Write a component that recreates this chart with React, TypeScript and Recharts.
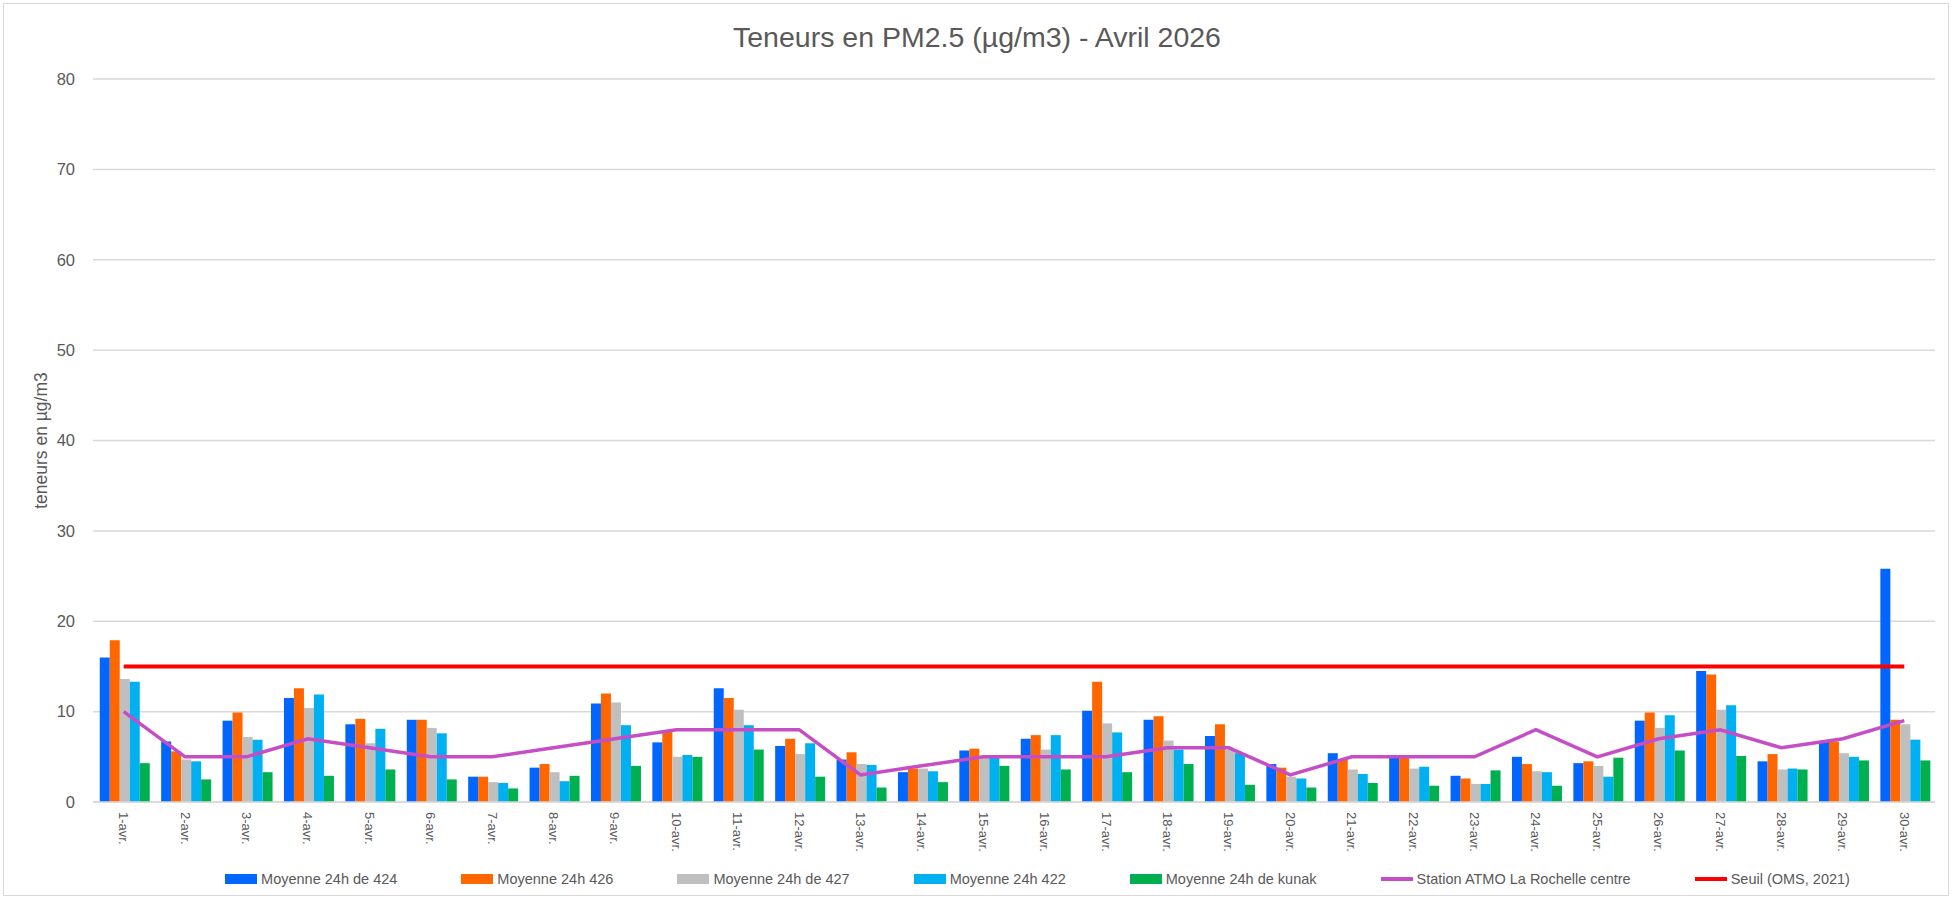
import React from "react"
import {
  ComposedChart,
  Bar,
  Line,
  XAxis,
  YAxis,
  CartesianGrid,
  Legend,
  Label
} from "recharts"

const days = Array.from({ length: 30 }, (_, i) => `${i + 1}-avr.`)

const moy424 = [16.0, 6.7, 9.0, 11.5, 8.6, 9.1, 2.8, 3.8, 10.9, 6.6, 12.6, 6.2, 4.7, 3.3, 5.7, 7.0, 10.1, 9.1, 7.3, 4.2, 5.4, 4.9, 2.9, 5.0, 4.3, 9.0, 14.5, 4.5, 6.7, 25.8]
const moy426 = [17.9, 5.6, 9.9, 12.6, 9.2, 9.1, 2.8, 4.2, 12.0, 7.8, 11.5, 7.0, 5.5, 3.7, 5.9, 7.4, 13.3, 9.5, 8.6, 3.8, 4.7, 4.9, 2.6, 4.2, 4.5, 9.9, 14.1, 5.3, 6.7, 9.1]
const moy427 = [13.6, 4.7, 7.2, 10.4, 6.5, 8.2, 2.2, 3.3, 11.0, 5.0, 10.2, 5.3, 4.2, 3.7, 5.0, 5.8, 8.7, 6.8, 5.8, 2.8, 3.6, 3.7, 2.0, 3.4, 4.0, 8.2, 10.2, 3.6, 5.4, 8.6]
const moy422 = [13.3, 4.5, 6.9, 11.9, 8.1, 7.6, 2.1, 2.3, 8.5, 5.2, 8.5, 6.5, 4.1, 3.4, 5.2, 7.4, 7.7, 5.8, 5.4, 2.6, 3.1, 3.9, 2.0, 3.3, 2.8, 9.6, 10.7, 3.7, 5.0, 6.9]
const moyKunak = [4.3, 2.5, 3.3, 2.9, 3.6, 2.5, 1.5, 2.9, 4.0, 5.0, 5.8, 2.8, 1.6, 2.2, 4.0, 3.6, 3.3, 4.2, 1.9, 1.6, 2.1, 1.8, 3.5, 1.8, 4.9, 5.7, 5.1, 3.6, 4.6, 4.6]
const atmo = [10, 5, 5, 7, 6, 5, 5, 6, 7, 8, 8, 8, 3, 4, 5, 5, 5, 6, 6, 3, 5, 5, 5, 8, 5, 7, 8, 6, 7, 9]
const seuil = days.map(() => 15)

const yTicks = [0, 10, 20, 30, 40, 50, 60, 70, 80]

const data = days.map((day, i) => ({
  day,
  m424: moy424[i],
  m426: moy426[i],
  m427: moy427[i],
  m422: moy422[i],
  kunak: moyKunak[i],
  atmo: atmo[i],
  seuil: seuil[i]
}))

// legend order follows the Excel series order
const legendItems = [
  { name: "Moyenne 24h de 424", color: "#0066FF", type: "rect" },
  { name: "Moyenne 24h 426", color: "#FF6600", type: "rect" },
  { name: "Moyenne 24h de 427", color: "#BFBFBF", type: "rect" },
  { name: "Moyenne 24h 422", color: "#00B0F0", type: "rect" },
  { name: "Moyenne 24h de kunak", color: "#00B050", type: "rect" },
  { name: "Station ATMO La Rochelle centre", color: "#C54EC6", type: "line" },
  { name: "Seuil (OMS, 2021)", color: "#FF0000", type: "line" }
]

const FONT = "'Liberation Sans', Arial, sans-serif"
const TEXT = "#595959"
const GRID = "#D9D9D9"

const DayTick = ({ x, y, payload }: any) => (
  <g transform={`translate(${x},${y})`}>
    <text
      transform="rotate(90)"
      x={2}
      y={0}
      dominantBaseline="central"
      textAnchor="start"
      fill={TEXT}
      fontSize={13}
      fontFamily={FONT}
    >
      {payload.value}
    </text>
  </g>
)

const LegendContent = () => (
  <div
    style={{
      height: 44,
      display: "flex",
      alignItems: "center",
      justifyContent: "center",
      paddingLeft: 140,
      fontFamily: FONT,
      fontSize: 14.5,
      color: TEXT
    }}
  >
    {legendItems.map((entry, i) => (
      <div key={i} style={{ display: "flex", alignItems: "center", marginRight: i < legendItems.length - 1 ? 64 : 0 }}>
        <span
          style={{
            display: "inline-block",
            width: 32,
            height: entry.type === "line" ? 4 : 10,
            background: entry.color,
            marginRight: 4
          }}
        />
        <span>{entry.name}</span>
      </div>
    ))}
  </div>
)

export default function App() {
  return (
    <div style={{ position: "absolute", left: 0, top: 0, width: 1954, height: 901, background: "#fff" }}>
      <div
        style={{
          position: "absolute",
          left: 3,
          top: 3,
          width: 1946,
          height: 893,
          border: `1px solid ${GRID}`,
          boxSizing: "border-box"
        }}
      />
      <div
        style={{
          position: "absolute",
          top: 21,
          left: 0,
          width: 1954,
          textAlign: "center",
          fontFamily: FONT,
          fontSize: 28.5,
          color: TEXT
        }}
      >
        Teneurs en PM2.5 (µg/m3) - Avril 2026
      </div>
      <ComposedChart
        width={1954}
        height={901}
        data={data}
        margin={{ top: 79, right: 19, left: 0, bottom: 0 }}
        barCategoryGap="11%"
        barGap={0}
      >
        <CartesianGrid vertical={false} stroke={GRID} strokeWidth={1.5} />
        <XAxis
          dataKey="day"
          interval={0}
          height={55}
          tickLine={false}
          axisLine={{ stroke: GRID, strokeWidth: 1.5 }}
          tick={<DayTick />}
        />
        <YAxis
          width={93}
          domain={[0, 80]}
          ticks={yTicks}
          axisLine={false}
          tickLine={false}
          tickMargin={12}
          tick={{ fill: TEXT, fontSize: 16.5, fontFamily: FONT }}
        >
          <Label
            content={({ viewBox }: any) => {
              const cx = 41
              const cy = viewBox.y + viewBox.height / 2
              return (
                <text
                  transform={`translate(${cx},${cy}) rotate(-90)`}
                  textAnchor="middle"
                  dominantBaseline="central"
                  fill={TEXT}
                  fontSize={17.5}
                  fontFamily={FONT}
                >
                  teneurs en µg/m3
                </text>
              )
            }}
          />
        </YAxis>
        <Legend verticalAlign="bottom" content={<LegendContent />} />
        <Bar dataKey="m424" name="Moyenne 24h de 424" fill="#0066FF" isAnimationActive={false} />
        <Bar dataKey="m426" name="Moyenne 24h 426" fill="#FF6600" isAnimationActive={false} />
        <Bar dataKey="m427" name="Moyenne 24h de 427" fill="#BFBFBF" isAnimationActive={false} />
        <Bar dataKey="m422" name="Moyenne 24h 422" fill="#00B0F0" isAnimationActive={false} />
        <Bar dataKey="kunak" name="Moyenne 24h de kunak" fill="#00B050" isAnimationActive={false} />
        <Line
          dataKey="atmo"
          name="Station ATMO La Rochelle centre"
          stroke="#C54EC6"
          strokeWidth={3.5}
          dot={false}
          isAnimationActive={false}
        />
        <Line
          dataKey="seuil"
          name="Seuil (OMS, 2021)"
          stroke="#FF0000"
          strokeWidth={4}
          dot={false}
          isAnimationActive={false}
        />
      </ComposedChart>
    </div>
  )
}
